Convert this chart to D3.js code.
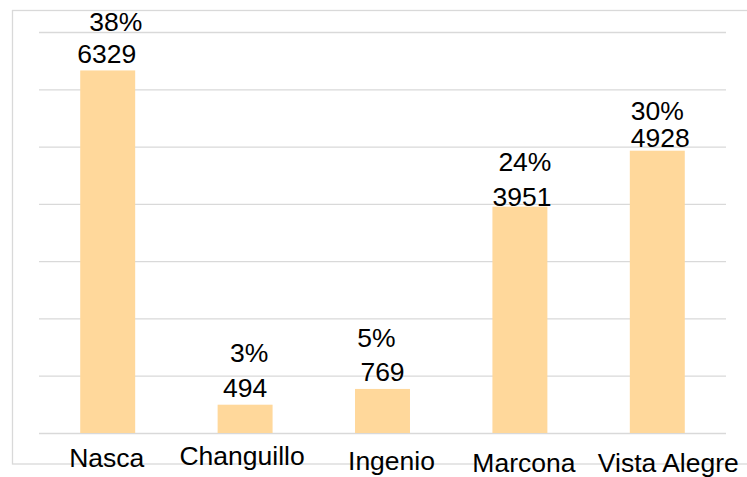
<!DOCTYPE html>
<html>
<head>
<meta charset="utf-8">
<script src="https://cdn.jsdelivr.net/npm/d3@7"></script>
<style>
html,body{margin:0;padding:0;background:#fff;}
svg{display:block;}
text{font-family:"Liberation Sans",Arial,sans-serif;fill:#000;}
</style>
</head>
<body>
<svg id="chart" width="747" height="477"></svg>
<script>
// ---- data ----
const categories = ["Nasca", "Changuillo", "Ingenio", "Marcona", "Vista Alegre"];
const values = [6329, 494, 769, 3951, 4928];
const percents = ["38%", "3%", "5%", "24%", "30%"];
const yTicks = [0, 1000, 2000, 3000, 4000, 5000, 6000, 7000];

// ---- layout nudges (label placement as in the reference) ----
const valueNudge = [[-1, -7], [0, -8], [0, -7.5], [2, -1], [3, -4]];
const pctNudge = [[8, -32.6], [4, -35], [-6, -34.7], [5, -35], [0, -26.7]];
const catNudge = [[-1, 467], [-3, 464.7], [9, 469.7], [4, 472], [11, 472]];

const svg = d3.select("#chart");
const plotLeft = 39, plotRight = 726, plotTop = 32, plotBottom = 433;
const fontSize = 26.5;

// outer frame
svg.append("rect")
  .attr("x", 12.5).attr("y", 10.5)
  .attr("width", 740).attr("height", 453.5)
  .attr("fill", "none").attr("stroke", "#d9d9d9").attr("stroke-width", 1.3);

const x = d3.scaleBand().domain(categories).range([plotLeft, plotRight])
  .paddingInner(0.6).paddingOuter(0.3);
const y = d3.scaleLinear().domain([0, 7000]).range([plotBottom, plotTop]);

// gridlines
const grid = svg.append("g").attr("transform", `translate(${plotLeft},0)`)
  .call(d3.axisLeft(y).tickValues(yTicks).tickSize(-(plotRight - plotLeft)).tickFormat(""));
grid.select(".domain").remove();
grid.selectAll("line").attr("stroke", "#d9d9d9").attr("stroke-width", 1.3);

// bars
svg.append("g").selectAll("rect").data(values).join("rect")
  .attr("x", (d, i) => x(categories[i]))
  .attr("y", d => y(d))
  .attr("width", x.bandwidth())
  .attr("height", d => y(0) - y(d))
  .attr("fill", "#FFD89B");

const cx = i => x(categories[i]) + x.bandwidth() / 2;

// value labels
svg.append("g").selectAll("text").data(values).join("text")
  .attr("x", (d, i) => cx(i) + valueNudge[i][0])
  .attr("y", (d, i) => y(d) + valueNudge[i][1])
  .attr("text-anchor", "middle")
  .style("font-size", fontSize + "px")
  .text(d => d);

// percent labels
svg.append("g").selectAll("text").data(percents).join("text")
  .attr("x", (d, i) => cx(i) + pctNudge[i][0])
  .attr("y", (d, i) => y(values[i]) + valueNudge[i][1] + pctNudge[i][1])
  .attr("text-anchor", "middle")
  .style("font-size", fontSize + "px")
  .text(d => d);

// category labels
svg.append("g").selectAll("text").data(categories).join("text")
  .attr("x", (d, i) => cx(i) + catNudge[i][0])
  .attr("y", (d, i) => catNudge[i][1])
  .attr("text-anchor", "middle")
  .style("font-size", fontSize + "px")
  .text(d => d);
</script>
</body>
</html>
